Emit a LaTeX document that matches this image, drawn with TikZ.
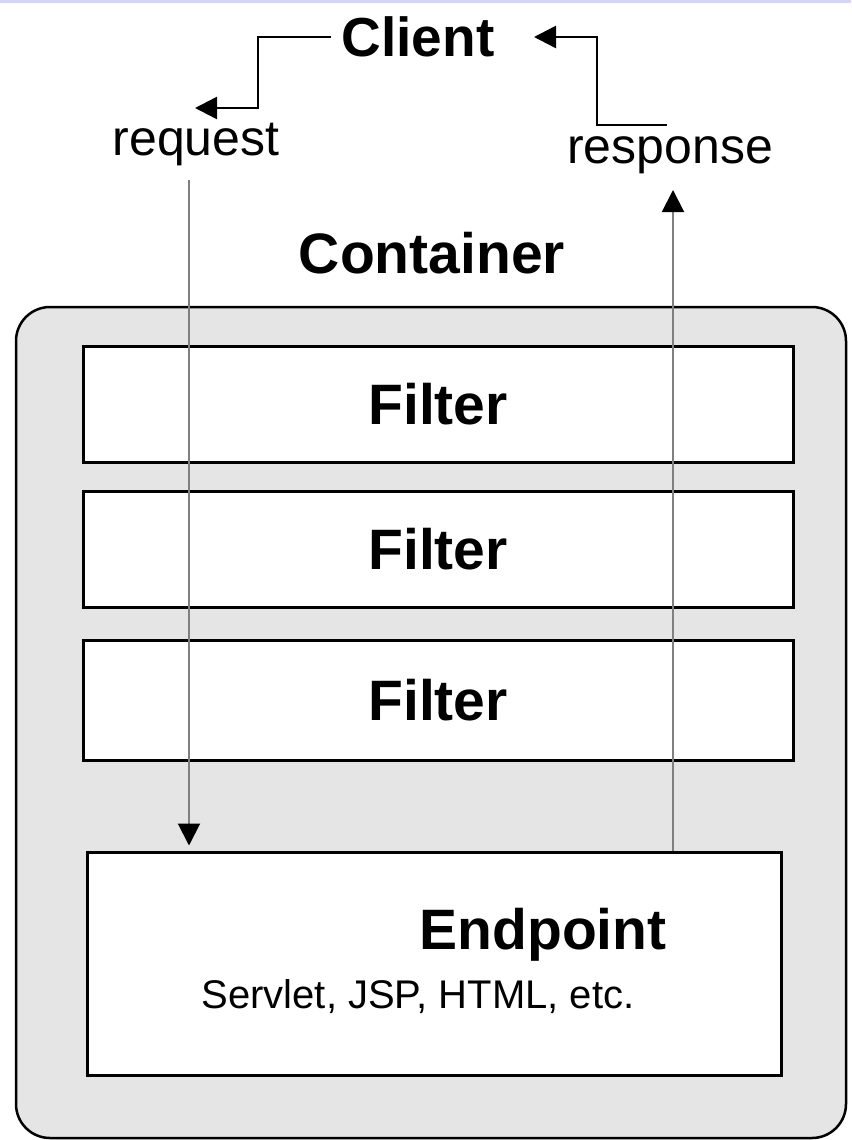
\documentclass[tikz,border=0pt]{standalone}
\usepackage{fontspec}
\setmainfont{Liberation Sans}
\usetikzlibrary{arrows.meta}

\definecolor{band}{HTML}{D4D4FA}
\definecolor{panel}{HTML}{E5E5E5}
\definecolor{flow}{HTML}{808080}

\tikzset{
  heading/.style={font=\bfseries\fontsize{57}{62}\selectfont, inner sep=0pt},
  caption/.style={font=\fontsize{50}{56}\selectfont, inner sep=0pt},
  stagebox/.style={draw=black, line width=3pt, fill=white, inner sep=0pt},
  wire/.style={draw=black, line width=2.5pt},
  tipped/.style={-{Triangle[length=22pt,width=22pt,color=black]}},
  flowline/.style={draw=flow, line width=2pt},
}

\begin{document}
\begin{tikzpicture}[x=1pt,y=-1pt]
\useasboundingbox (0,0) rectangle (851,1140);
\fill[band] (0,0) rectangle (851,3);

% client and the request / response labels
\node[heading, font=\bfseries\fontsize{55}{60}\selectfont, inner xsep=10pt] (client) at (418,37) {Client};
\node[caption] (reqlabel) at (196,145) {request};
\node[caption] (resplabel) at (670,155) {response};

% container panel
\node[draw=black, line width=2.5pt, fill=panel, rounded corners=34pt,
      minimum width=830pt, minimum height=831pt, inner sep=0pt] (container) at (431,722.5) {};
\node[heading] (contlabel) at (432,253) {Container};

% filter chain
\node[stagebox, heading, minimum width=710pt, minimum height=116pt] (filter1) at (438,404) {Filter};
\node[stagebox, heading, minimum width=710pt, minimum height=116pt] (filter2) at (438,549) {Filter};
\node[stagebox, heading, minimum width=710pt, minimum height=120pt] (filter3) at (438,700.5) {Filter};

% endpoint
\node[stagebox, minimum width=694pt, minimum height=223pt] (endpoint) at (434,963.5) {};
\node[heading] (epname) at (543,935) {Endpoint};
\node[font=\fontsize{40}{44}\selectfont, inner sep=0pt] (eptech) at (418,997) {Servlet, JSP, HTML, etc.};

% bends of the client connectors
\coordinate (reqknee) at (258,108);
\coordinate (reqtip) at (195,108);
\coordinate (resptail) at (667,125);
\coordinate (respknee) at (597,125);
\coordinate (clienttip) at (534,37);

\draw[wire, tipped] (client.west) -| (reqknee) -- (reqtip);
\draw[wire, tipped] (resptail) -- (respknee) |- (clienttip);

% request and response flows through the filters
\coordinate (reqtop) at (189,180);
\coordinate (resptop) at (673,190);
\draw[flowline, tipped, shorten >=5pt] (reqtop) -- (reqtop |- endpoint.north);
\draw[flowline, tipped] (resptop |- endpoint.north) -- (resptop);
\end{tikzpicture}
\end{document}
